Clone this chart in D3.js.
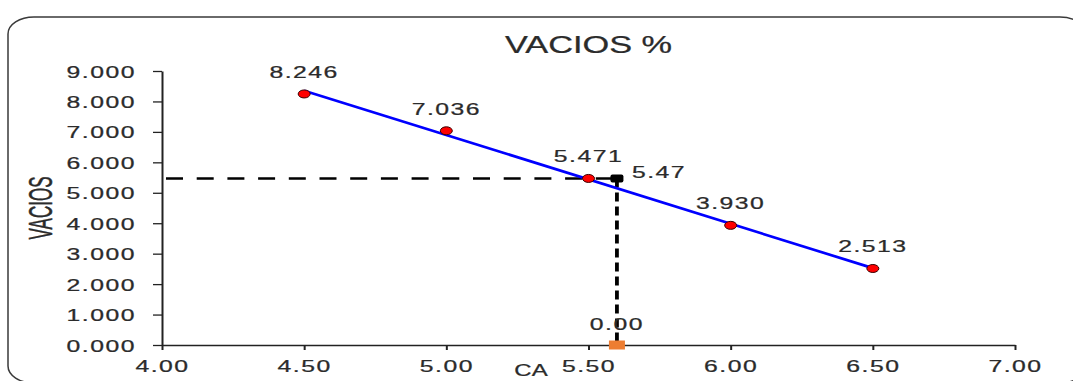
<!DOCTYPE html>
<html>
<head>
<meta charset="utf-8">
<script src="https://cdn.jsdelivr.net/npm/d3@7/dist/d3.min.js"></script>
<style>
  html, body { margin: 0; padding: 0; background: #fff; }
  svg { display: block; }
  text { font-family: "Liberation Sans", Arial, sans-serif; fill: #2b2b2b; stroke: #2b2b2b; stroke-width: 0.25; }
</style>
</head>
<body>
<svg id="chart" width="1073" height="381"></svg>
<script>
// Measured samples: asphalt content (CA) vs. air voids (VACIOS %)
const caValues = [4.5, 5.0, 5.5, 6.0, 6.5];
const vaciosValues = [8.246, 7.036, 5.471, 3.930, 2.513];

// Reading taken at the design asphalt content
const readingCA = 5.6;
const readingVacios = 5.47;
const readingBase = 0;

// Axis ticks
const xTickValues = [4.0, 4.5, 5.0, 5.5, 6.0, 6.5, 7.0];
const yTickValues = [0, 1, 2, 3, 4, 5, 6, 7, 8, 9];

const chartTitle = "VACIOS %";
const xTitle = "CA";
const yTitle = "VACIOS";

const svg = d3.select("#chart");
const SX = 1.5;            // horizontal stretch of glyphs
const numFont = 16.5;

const x = d3.scaleLinear().domain([4, 7]).range([162, 1015]);
const y = d3.scaleLinear().domain([0, 9]).range([345, 71]);

// Outer frame with rounded corners
svg.append("rect")
  .attr("x", 8).attr("y", 17)
  .attr("width", 1078).attr("height", 366)
  .attr("rx", 26).attr("ry", 17)
  .attr("fill", "none")
  .attr("stroke", "#3a3a3a")
  .attr("stroke-width", 1.5);

function stretchedText(g, tx, ty, str, opts) {
  const t = g.append("text")
    .attr("transform", `translate(${tx},${ty}) scale(${opts.sx || SX},1)`)
    .attr("text-anchor", opts.anchor || "middle")
    .attr("font-size", opts.size || numFont)
    .attr("letter-spacing", opts.ls || 0)
    .text(str);
  return t;
}

// Title
stretchedText(svg, x(5.5), 53, chartTitle, { size: 23.5, sx: 1.46 });

// Y axis
const yAxis = d3.axisLeft(y)
  .tickValues(yTickValues)
  .tickSize(9)
  .tickSizeOuter(0)
  .tickFormat(d3.format(".3f"));
const gy = svg.append("g").attr("transform", `translate(${x(4)},0)`).call(yAxis);
gy.select(".domain").attr("stroke", "#222").attr("stroke-width", 2);
gy.selectAll(".tick line").attr("stroke", "#222").attr("stroke-width", 1.3);
gy.selectAll(".tick text").each(function (d) {
  d3.select(this)
    .attr("x", null).attr("dy", null)
    .attr("transform", `translate(-26,6) scale(${SX},1)`)
    .attr("text-anchor", "end")
    .attr("font-size", numFont)
    .attr("letter-spacing", 1)
    .attr("fill", "#2b2b2b")
    .attr("font-family", null);
});

// X axis
const xAxis = d3.axisBottom(x)
  .tickValues(xTickValues)
  .tickSize(5)
  .tickSizeOuter(0)
  .tickFormat(d3.format(".2f"));
const gx = svg.append("g").attr("transform", `translate(0,${y(0)})`).call(xAxis);
gx.select(".domain").attr("stroke", "#222").attr("stroke-width", 1.3);
gx.selectAll(".tick line").attr("stroke", "#222").attr("stroke-width", 2);
gx.selectAll(".tick text").each(function (d) {
  d3.select(this)
    .attr("y", null).attr("dy", null)
    .attr("transform", `translate(0,27) scale(${SX},1)`)
    .attr("text-anchor", "middle")
    .attr("font-size", numFont)
    .attr("letter-spacing", 1)
    .attr("fill", "#2b2b2b")
    .attr("font-family", null);
});

// Axis titles
svg.append("text")
  .attr("transform", `translate(52,${(y(9) + y(0)) / 2}) scale(2,1) rotate(-90)`)
  .attr("text-anchor", "middle")
  .attr("font-size", 17)
  .text(yTitle);
stretchedText(svg, 531, 376, xTitle, { size: 16, sx: 1.5 });

// Linear trendline through the measured samples
const mx = d3.mean(caValues), my = d3.mean(vaciosValues);
const sxy = d3.sum(caValues, (v, i) => (v - mx) * (vaciosValues[i] - my));
const sxx = d3.sum(caValues, v => (v - mx) * (v - mx));
const slope = sxy / sxx, intercept = my - slope * mx;
const trendX = d3.extent(caValues);

// Dashed guide lines from the reading point
svg.append("line")
  .attr("x1", x(4)).attr("x2", x(readingCA))
  .attr("y1", y(readingVacios)).attr("y2", y(readingVacios))
  .attr("stroke", "#000").attr("stroke-width", 2.5)
  .attr("stroke-dasharray", "17 13.7")
  .attr("stroke-dashoffset", 26.7);
svg.append("line")
  .attr("x1", x(readingCA)).attr("x2", x(readingCA))
  .attr("y1", y(readingVacios)).attr("y2", y(readingBase))
  .attr("stroke", "#000").attr("stroke-width", 3.8)
  .attr("stroke-dasharray", "9 5");

svg.append("line")
  .attr("x1", x(trendX[0])).attr("y1", y(intercept + slope * trendX[0]))
  .attr("x2", x(trendX[1])).attr("y2", y(intercept + slope * trendX[1]))
  .attr("stroke", "#0000ff")
  .attr("stroke-width", 2.7);

// Sample markers
svg.append("g").selectAll("ellipse")
  .data(caValues)
  .join("ellipse")
  .attr("cx", d => x(d))
  .attr("cy", (d, i) => y(vaciosValues[i]))
  .attr("rx", 6).attr("ry", 4)
  .attr("fill", "#ff0000")
  .attr("stroke", "#3a0000")
  .attr("stroke-width", 1);

// Sample value labels
caValues.forEach((d, i) => {
  stretchedText(svg, x(d), y(vaciosValues[i]) - 16, d3.format(".3f")(vaciosValues[i]), { ls: 1 });
});

// Reading markers
svg.append("rect")
  .attr("x", x(readingCA) - 6.5).attr("y", y(readingVacios) - 4)
  .attr("width", 13).attr("height", 8)
  .attr("rx", 2)
  .attr("fill", "#000");
svg.append("rect")
  .attr("x", x(readingCA) - 8).attr("y", y(readingBase) - 4.5)
  .attr("width", 16).attr("height", 9)
  .attr("fill", "#ed7d31");

stretchedText(svg, x(readingCA) + 15, y(readingVacios), d3.format(".2f")(readingVacios), { anchor: "start", ls: 1 });
stretchedText(svg, x(readingCA), y(readingBase) - 15, d3.format(".2f")(readingBase), { ls: 1 });
</script>
</body>
</html>
